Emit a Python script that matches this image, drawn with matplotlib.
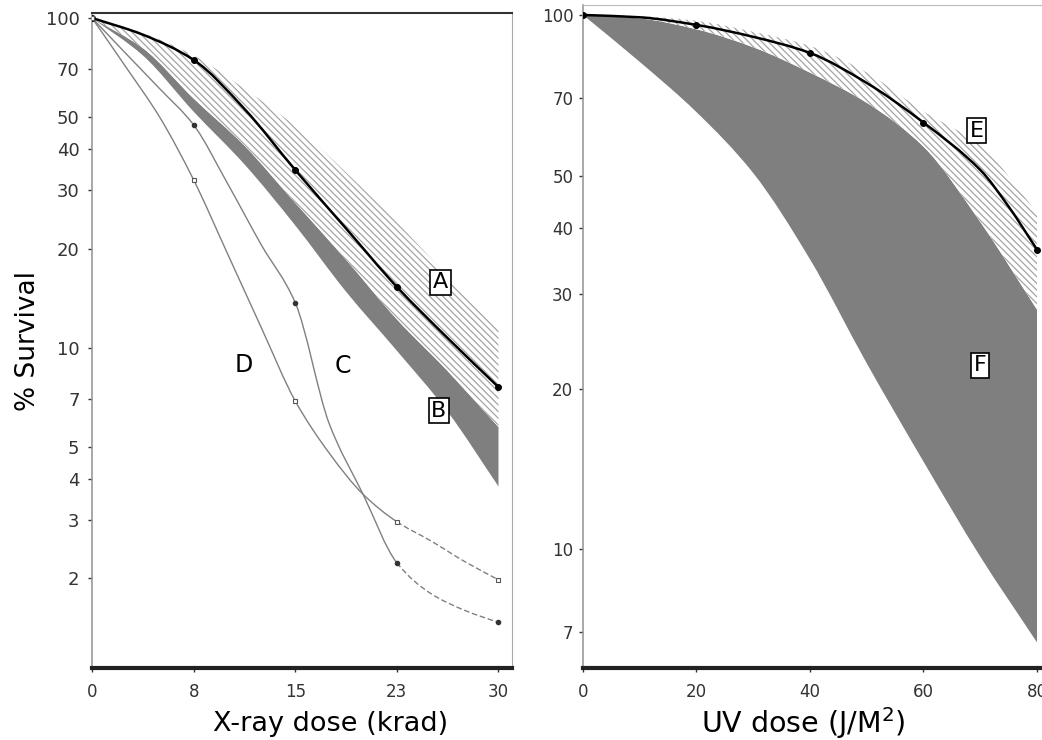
import numpy as np
import matplotlib
matplotlib.use("Agg")
import matplotlib.pyplot as plt
from matplotlib.path import Path
from matplotlib.patches import PathPatch

plt.rcParams['font.family'] = ['DejaVu Sans']
plt.rcParams['hatch.linewidth'] = 0.9

# ---- left panel: X-ray survival ----
xray_x = [0, 3.75, 7.5, 11.25, 15, 18.75, 22.5, 26.25, 30]
curve_a = [100, 89, 74.6, 53, 34.6, 23, 15.3, 10.7, 7.6]
band_a_upper = [100, 90, 77, 61, 47, 34, 24, 16.5, 11.5]
band_a_lower = [100, 81, 57, 41, 27.5, 18.5, 12.2, 8.5, 5.75]
band_b_lower = [100, 77, 52, 36, 23.5, 14.8, 9.8, 6.4, 3.8]
a_marks = [0, 2, 4, 6, 8]

cd_x = [0, 2.5, 5, 7.5, 10, 12.5, 15, 17.5, 20, 22.5, 25, 27.5, 30]
curve_c = [100, 78, 61, 47.4, 31.5, 20.5, 13.7, 5.9, 3.6, 2.23, 1.8, 1.6, 1.47]
curve_d = [100, 71, 50, 32.3, 19.3, 11.5, 6.9, 4.8, 3.6, 2.97, 2.6, 2.25, 1.98]
cd_marks = [0, 3, 6, 9, 12]

xray_ticks = [0, 7.5, 15, 22.5, 30]
xray_ticklabels = ['0', '8', '15', '23', '30']
left_yticks = [2, 3, 4, 5, 7, 10, 20, 30, 40, 50, 70, 100]

# ---- right panel: UV survival ----
uv_x = [0, 10, 20, 30, 40, 50, 60, 70, 80]
band_e_upper = [100, 99.5, 97.5, 93, 87.5, 78, 66, 57, 42.7]
band_e_lower = [100, 98.5, 94, 87, 78, 68.5, 56.7, 41, 28.1]
band_f_lower = [100, 81.7, 65.8, 50.6, 34.9, 22.3, 14.6, 9.7, 6.7]

curve_e_x = [0, 10, 20, 30, 40, 50, 60, 70, 75, 80]
curve_e = [100, 99, 95.8, 91, 84.9, 74.6, 62.9, 51.3, 43.8, 36.4]
e_marks = [0, 2, 4, 6, 9]

uv_ticks = [0, 20, 40, 60, 80]
right_yticks = [7, 10, 20, 30, 40, 50, 70, 100]

GRAY = '#7f7f7f'
HATCH = '#a4a4a4'
LINE = '#808080'
HATCH_PAT = '\\' * 5


def bezier_segs(xs, ys):
    # smooth monotone curve through the points, worked out in x / log(y)
    x = np.asarray(xs, float)
    y = np.log10(np.asarray(ys, float))
    h = np.diff(x)
    d = np.diff(y) / h
    m = np.empty_like(y)
    m[0], m[-1] = d[0], d[-1]
    for k in range(1, len(y) - 1):
        if d[k - 1] * d[k] <= 0:
            m[k] = 0.0
        else:
            m[k] = 2.0 / (1.0 / d[k - 1] + 1.0 / d[k])
    segs = []
    for k in range(len(x) - 1):
        p0 = np.array([x[k], y[k]])
        p3 = np.array([x[k + 1], y[k + 1]])
        c1 = p0 + np.array([h[k] / 3, m[k] * h[k] / 3])
        c2 = p3 - np.array([h[k] / 3, m[k + 1] * h[k] / 3])
        s = np.array([p0, c1, c2, p3])
        s[:, 1] = 10 ** s[:, 1]
        segs.append(s)
    return segs


def line_path(segs):
    verts = [segs[0][0]]
    codes = [Path.MOVETO]
    for s in segs:
        verts += [s[1], s[2], s[3]]
        codes += [Path.CURVE4] * 3
    return Path(np.array(verts), codes)


def band_path(xs, lower, upper):
    up = bezier_segs(xs, upper)
    lo = bezier_segs(xs, lower)
    verts = [up[0][0]]
    codes = [Path.MOVETO]
    for s in up:
        verts += [s[1], s[2], s[3]]
        codes += [Path.CURVE4] * 3
    verts.append(lo[-1][3])
    codes.append(Path.LINETO)
    for s in lo[::-1]:
        verts += [s[2], s[1], s[0]]
        codes += [Path.CURVE4] * 3
    verts.append(verts[0])
    codes.append(Path.CLOSEPOLY)
    return Path(np.array(verts), codes)


def smooth_line(ax, xs, ys, split=None, **kw):
    segs = bezier_segs(xs, ys)
    if split is None:
        ax.add_patch(PathPatch(line_path(segs), fill=False, **kw))
    else:
        ax.add_patch(PathPatch(line_path(segs[:split]), fill=False, **kw))
        kw2 = dict(kw)
        kw2['linestyle'] = (0, (4, 2))
        ax.add_patch(PathPatch(line_path(segs[split:]), fill=False, **kw2))


fig = plt.figure(figsize=(10.42, 7.40), dpi=100)
ax1 = fig.add_axes([0.0883, 0.0973, 0.4031, 0.8851])
ax2 = fig.add_axes([0.5595, 0.0973, 0.4395, 0.8960])

box = dict(boxstyle='square,pad=0.12', facecolor='white', edgecolor='black', linewidth=1.2)

# left
ax1.set_yscale('log')
ax1.set_xlim(0, 31)
ax1.set_ylim(1.07, 103.5)
ax1.add_patch(PathPatch(band_path(xray_x, band_b_lower, band_a_lower),
                        facecolor=GRAY, edgecolor='none', lw=0, zorder=1))
ax1.add_patch(PathPatch(band_path(xray_x, band_a_lower, band_a_upper),
                        facecolor='white', edgecolor=HATCH, hatch=HATCH_PAT, lw=0, zorder=2))
smooth_line(ax1, xray_x, curve_a, edgecolor='black', lw=1.8, zorder=4)
ax1.plot([xray_x[i] for i in a_marks], [curve_a[i] for i in a_marks], ls='none',
         marker='o', ms=4, color='black', zorder=4)

smooth_line(ax1, cd_x, curve_c, split=9, edgecolor=LINE, lw=1.0, zorder=3)
ax1.plot([cd_x[i] for i in cd_marks], [curve_c[i] for i in cd_marks], ls='none',
         marker='o', ms=3, color='#333333', zorder=4)
smooth_line(ax1, cd_x, curve_d, split=9, edgecolor=LINE, lw=1.0, zorder=3)
ax1.plot([cd_x[i] for i in cd_marks], [curve_d[i] for i in cd_marks], ls='none',
         marker='s', ms=3.5, mfc='white', mec='#555555', mew=0.8, zorder=4)

ax1.text(25.7, 15.8, 'A', fontsize=16, ha='center', va='center', bbox=box, zorder=5)
ax1.text(25.6, 6.45, 'B', fontsize=16, ha='center', va='center', bbox=box, zorder=5)
ax1.text(11.2, 8.9, 'D', fontsize=17, ha='center', va='center', zorder=5)
ax1.text(18.5, 8.8, 'C', fontsize=17, ha='center', va='center', zorder=5)

ax1.set_xticks(xray_ticks)
ax1.set_xticklabels(xray_ticklabels)
ax1.set_yticks(left_yticks)
ax1.set_yticklabels([str(v) for v in left_yticks])
ax1.minorticks_off()
ax1.set_xlabel('X-ray dose (krad)', fontsize=19.5)
ax1.set_ylabel('% Survival', fontsize=19)
ax1.xaxis.set_label_coords(0.567, -0.066)
ax1.yaxis.set_label_coords(-0.122, 0.5)

# right
ax2.set_yscale('log')
ax2.set_xlim(0, 80.7)
ax2.set_ylim(6.0, 104.4)
ax2.add_patch(PathPatch(band_path(uv_x, band_f_lower, band_e_lower),
                        facecolor=GRAY, edgecolor='none', lw=0, zorder=1))
ax2.add_patch(PathPatch(band_path(uv_x, band_e_lower, band_e_upper),
                        facecolor='white', edgecolor=HATCH, hatch=HATCH_PAT, lw=0, zorder=2))
smooth_line(ax2, curve_e_x, curve_e, edgecolor='black', lw=1.8, zorder=4)
ax2.plot([curve_e_x[i] for i in e_marks], [curve_e[i] for i in e_marks], ls='none',
         marker='o', ms=4, color='black', zorder=4)

ax2.text(69.4, 60.7, 'E', fontsize=16, ha='center', va='center', bbox=box, zorder=5)
ax2.text(70, 22.1, 'F', fontsize=16, ha='center', va='center', bbox=box, zorder=5)

ax2.set_xticks(uv_ticks)
ax2.set_xticklabels([str(v) for v in uv_ticks])
ax2.set_yticks(right_yticks)
ax2.set_yticklabels([str(v) for v in right_yticks])
ax2.minorticks_off()
ax2.set_xlabel('UV dose (J/M$^2$)', fontsize=20.5)
ax2.xaxis.set_label_coords(0.48, -0.056)

for ax in (ax1, ax2):
    ax.tick_params(axis='both', labelsize=12, length=3, width=1, colors='#333333', pad=4)
    ax.tick_params(axis='x', pad=8)
    ax.spines['bottom'].set_linewidth(3)
    ax.spines['bottom'].set_color('#222222')
    ax.spines['left'].set_color('#999999')
    ax.spines['left'].set_linewidth(1.2)
ax1.tick_params(axis='y', labelsize=13, pad=6)

ax1.spines['top'].set_color('#333333')
ax1.spines['top'].set_linewidth(1.5)
ax1.spines['right'].set_color('#aaaaaa')
ax2.spines['top'].set_color('#bbbbbb')
ax2.spines['right'].set_visible(False)

fig.savefig('out.png', dpi=100)
